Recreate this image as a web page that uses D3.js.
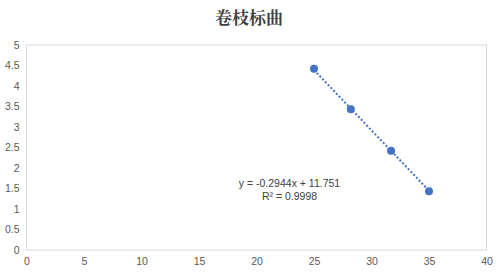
<!DOCTYPE html>
<html>
<head>
<meta charset="utf-8">
<script src="https://cdn.jsdelivr.net/npm/d3@7"></script>
<style>
  body { margin: 0; background: #fff; }
  text { font-family: "Liberation Sans", "Noto Sans", sans-serif; }
</style>
</head>
<body>
<div id="chart"></div>
<script>
// data
const xValues = [25, 28.2, 31.7, 35];
const yValues = [4.42, 3.43, 2.42, 1.43];
const xTicks = [0, 5, 10, 15, 20, 25, 30, 35, 40];
const yTicks = [0, 0.5, 1, 1.5, 2, 2.5, 3, 3.5, 4, 4.5, 5];
const title = "卷枝标曲";
const fitLabel = ["y = -0.2944x + 11.751", "R² = 0.9998"];
const slope = -0.2944, intercept = 11.751;

const W = 498, H = 277;
const margin = {top: 45, right: 11.5, bottom: 27, left: 26.5};
const width = W - margin.left - margin.right;
const height = H - margin.top - margin.bottom;

const svg = d3.select("#chart").append("svg")
  .attr("width", W).attr("height", H);

// title
svg.append("text")
  .attr("x", W / 2)
  .attr("y", 24)
  .attr("text-anchor", "middle")
  .attr("font-size", 17)
  .attr("font-weight", 700)
  .style("font-family", "'Noto Serif CJK SC', 'Noto Sans CJK SC', serif")
  .attr("fill", "#404040")
  .text(title);

const g = svg.append("g")
  .attr("transform", "translate(" + margin.left + "," + margin.top + ")");

const x = d3.scaleLinear().domain([0, 40]).range([0, width]);
const y = d3.scaleLinear().domain([0, 5]).range([height, 0]);

// plot frame
g.append("rect")
  .attr("x", 0).attr("y", 0)
  .attr("width", width).attr("height", height)
  .attr("fill", "none")
  .attr("stroke", "#d9d9d9")
  .attr("stroke-width", 1);

// axes, labels only
const xAxis = g.append("g")
  .attr("transform", "translate(0," + height + ")")
  .call(d3.axisBottom(x).tickValues(xTicks).tickSize(0).tickPadding(8));
const yAxis = g.append("g")
  .call(d3.axisLeft(y).tickValues(yTicks).tickSize(0).tickPadding(7).tickFormat(d3.format("")));
[xAxis, yAxis].forEach(a => {
  a.select(".domain").remove();
  a.selectAll("text").attr("fill", "#595959").attr("font-size", 10.5)
    .style("font-family", "'Liberation Sans', sans-serif");
});

// trendline
const x0 = d3.min(xValues), x1 = d3.max(xValues);
g.append("line")
  .attr("x1", x(x0)).attr("y1", y(slope * x0 + intercept))
  .attr("x2", x(x1)).attr("y2", y(slope * x1 + intercept))
  .attr("stroke", "#4472c4")
  .attr("stroke-width", 2)
  .attr("stroke-dasharray", "2,2");

// points
g.append("g")
  .selectAll("circle")
  .data(xValues.map((d, i) => ({x: d, y: yValues[i]})))
  .enter()
  .append("circle")
  .attr("cx", d => x(d.x))
  .attr("cy", d => y(d.y))
  .attr("r", 4)
  .attr("fill", "#4472c4");

// equation label
g.selectAll(".fit")
  .data(fitLabel)
  .enter()
  .append("text")
  .attr("class", "fit")
  .attr("x", 263)
  .attr("y", (d, i) => 142 + i * 13)
  .attr("text-anchor", "middle")
  .attr("font-size", 10.5)
  .attr("fill", "#404040")
  .text(d => d);
</script>
</body>
</html>
